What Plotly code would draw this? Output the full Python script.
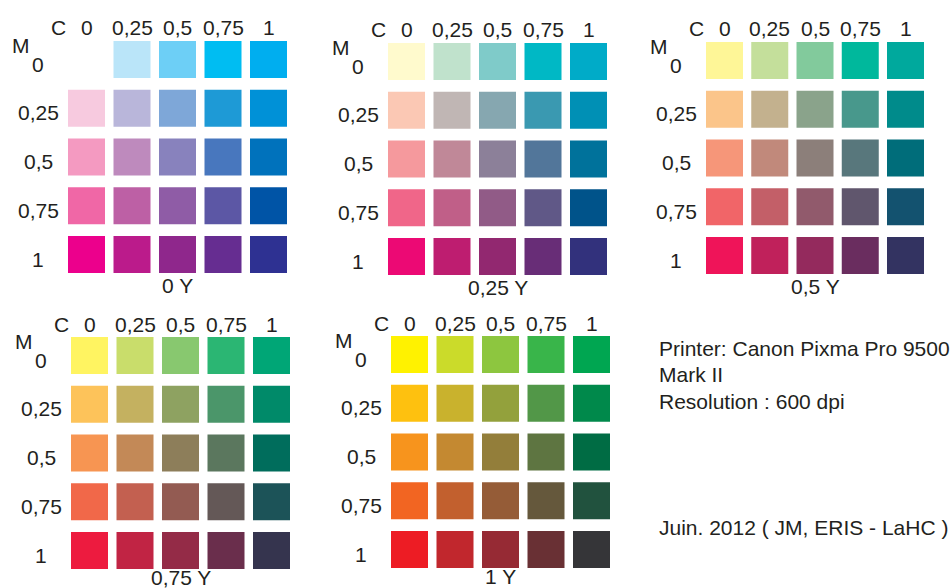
import plotly.graph_objects as go

# ---------------- data ----------------
C_VALUES = [0, 0.25, 0.5, 0.75, 1]
M_VALUES = [0, 0.25, 0.5, 0.75, 1]
C_LABELS = ["0", "0,25", "0,5", "0,75", "1"]
M_LABELS = ["0", "0,25", "0,5", "0,75", "1"]
Y_LABELS = ["0 Y", "0,25 Y", "0,5 Y", "0,75 Y", "1 Y"]

# rows = M (0 -> 1), columns = C (0 -> 1)
colors_y0 = [
    ["#ffffff", "#bae5f9", "#6dcff6", "#00bdf2", "#00aeef"],
    ["#f7cadf", "#b9b6da", "#7ea7d8", "#1e9ad6", "#0091d7"],
    ["#f49ac1", "#be8abd", "#8882bd", "#4877be", "#0072bc"],
    ["#f067a6", "#bd60a5", "#8f5ca6", "#5c57a5", "#0054a6"],
    ["#ec008c", "#bb1b8b", "#8f278c", "#662d91", "#2e3192"],
]
colors_y025 = [
    ["#fffacd", "#c0e2cc", "#7fcbc9", "#00b8c5", "#00abc8"],
    ["#fbc8b4", "#c0b6b4", "#86a7b0", "#3a99b1", "#0090b5"],
    ["#f5999d", "#c08898", "#8c8099", "#52769a", "#00729b"],
    ["#f06689", "#c05f88", "#915b87", "#605887", "#00538a"],
    ["#ec0974", "#be1d70", "#922870", "#682d77", "#32317c"],
]
colors_y05 = [
    ["#fef697", "#c4df9b", "#82ca9c", "#00b89c", "#00a99d"],
    ["#fbc58a", "#c3b18e", "#8aa38b", "#48988c", "#008b8b"],
    ["#f69679", "#c1897b", "#8c7f7a", "#58777c", "#006d7a"],
    ["#f16568", "#c35f68", "#915a6c", "#60566d", "#13526f"],
    ["#ef1459", "#c0215b", "#942a5d", "#6a2d5f", "#333361"],
]
colors_y075 = [
    ["#fff461", "#c9dd6b", "#88c86f", "#2bb673", "#00a676"],
    ["#fdc35a", "#c4b160", "#8ea261", "#4b966a", "#008a69"],
    ["#f79552", "#c38957", "#8d7e5a", "#5b775e", "#006d5c"],
    ["#f16849", "#c36050", "#935b52", "#645857", "#1c5358"],
    ["#ed1b3f", "#c12444", "#942b47", "#6a2e4c", "#35344e"],
]
colors_y1 = [
    ["#fff200", "#cbdb2a", "#8dc63f", "#39b54a", "#00a651"],
    ["#fec10f", "#c9b22d", "#93a13c", "#529748", "#00894b"],
    ["#f7941d", "#c48931", "#937e3a", "#5e7541", "#006c44"],
    ["#f26522", "#c2602e", "#955c37", "#65583c", "#21523e"],
    ["#ed1c24", "#c1272d", "#962a34", "#693034", "#353538"],
]
PANEL_COLORS = [colors_y0, colors_y025, colors_y05, colors_y075, colors_y1]

INFO_LINES = ["Printer: Canon Pixma Pro 9500", "Mark II", "Resolution : 600 dpi"]
DATE_TEXT = "Juin. 2012 ( JM, ERIS - LaHC )"

# ---------------- layout (pixels) ----------------
W, H = 952, 588
FONT = "Liberation Sans, Arial, sans-serif"
TXT = "#231f20"
FS = 21
SQ = 37
# (col0 centre x, col4 centre x, row0 centre y, row4 centre y) in px
PANEL_PX = [
    (86.5, 268.5, 59.5, 254.5),
    (406.5, 588.5, 61.5, 256.5),
    (724.5, 905.5, 60.5, 255.5),
    (89.5, 271.5, 355.5, 550.5),
    (409.5, 591.5, 354.5, 549.5),
]

fig = go.Figure()
annotations = []
layout_axes = {}

for i, (cols, px) in enumerate(zip(PANEL_COLORS, PANEL_PX)):
    n = "" if i == 0 else str(i + 1)
    x0c, x4c, y0c, y4c = px
    px_x = (x4c - x0c) / 4
    px_y = (y4c - y0c) / 4
    dx = [(x0c - px_x / 2) / W, (x4c + px_x / 2) / W]
    dy_top = y0c - px_y / 2
    dy_bot = y4c + px_y / 2
    dy = [1 - dy_bot / H, 1 - dy_top / H]

    xs, ys, cs = [], [], []
    for r, m in enumerate(M_VALUES):
        for c, cv in enumerate(C_VALUES):
            xs.append(cv)
            ys.append(m)
            cs.append(cols[r][c])
    fig.add_trace(go.Scatter(
        x=xs, y=ys, mode="markers", xaxis="x" + n, yaxis="y" + n,
        marker=dict(symbol="square", size=SQ, color=cs, line=dict(width=0)),
        hoverinfo="skip", showlegend=False,
    ))
    layout_axes["xaxis" + n] = dict(domain=dx, range=[-0.125, 1.125], visible=False,
                                    anchor="y" + n, fixedrange=True)
    layout_axes["yaxis" + n] = dict(domain=dy, range=[1.125, -0.125], visible=False,
                                    anchor="x" + n, fixedrange=True)

    xr, yr = "x" + n, "y" + n
    head_up = 32.5 if i < 3 else 31
    sub_down = -30.5 if i < 3 else -26.5
    # column headers
    for cv, lab in zip(C_VALUES, C_LABELS):
        annotations.append(dict(x=cv, y=0, xref=xr, yref=yr, text=lab, showarrow=False,
                                yshift=head_up, font=dict(size=FS, color=TXT, family=FONT)))
    # "C"
    annotations.append(dict(x=0, y=0, xref=xr, yref=yr, text="C", showarrow=False,
                            xshift=-28, yshift=head_up, font=dict(size=FS, color=TXT, family=FONT)))
    # "M"
    annotations.append(dict(x=0, y=0, xref=xr, yref=yr, text="M", showarrow=False,
                            xshift=-66, yshift=14.5, font=dict(size=FS, color=TXT, family=FONT)))
    # row labels
    for m, lab in zip(M_VALUES, M_LABELS):
        annotations.append(dict(x=0, y=m, xref=xr, yref=yr, text=lab, showarrow=False,
                                xshift=-48.5, yshift=-4.5, font=dict(size=FS, color=TXT, family=FONT)))
    # Y subtitle
    annotations.append(dict(x=0.5, y=1, xref=xr, yref=yr, text=Y_LABELS[i], showarrow=False,
                            yshift=sub_down, font=dict(size=FS, color=TXT, family=FONT)))

# information text
for k, line in enumerate(INFO_LINES):
    annotations.append(dict(x=657 / W, y=1 - (348 + 26.5 * k) / H, xref="paper", yref="paper",
                            text=line, showarrow=False, xanchor="left", yanchor="middle",
                            font=dict(size=FS, color=TXT, family=FONT)))
annotations.append(dict(x=657 / W, y=1 - 527 / H, xref="paper", yref="paper",
                        text=DATE_TEXT, showarrow=False, xanchor="left", yanchor="middle",
                        font=dict(size=FS, color=TXT, family=FONT)))

fig.update_layout(
    width=W, height=H,
    margin=dict(l=0, r=0, t=0, b=0),
    paper_bgcolor="white", plot_bgcolor="rgba(0,0,0,0)",
    annotations=annotations,
    font=dict(family=FONT, color=TXT),
    **layout_axes,
)

fig.write_html(
    "out.html",
    config={"displayModeBar": False},
    post_script="document.body.style.margin='0';document.body.style.overflow='hidden';",
)
